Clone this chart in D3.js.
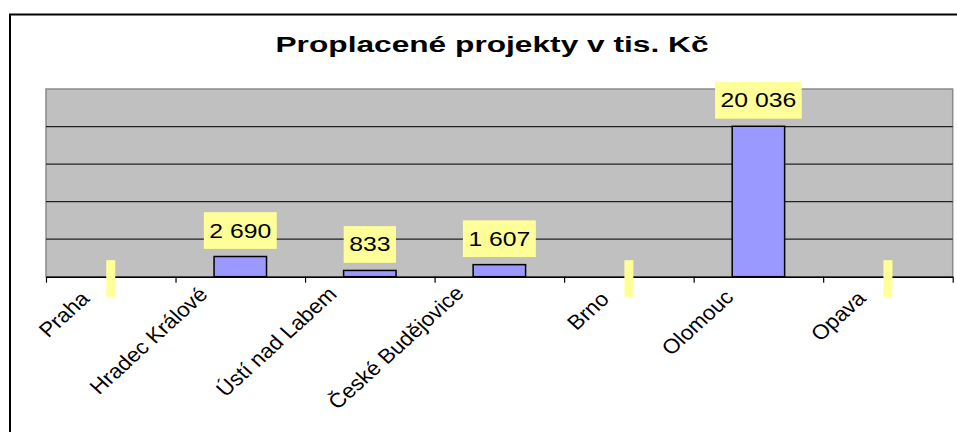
<!DOCTYPE html>
<html>
<head>
<meta charset="utf-8">
<script src="https://cdn.jsdelivr.net/npm/d3@7"></script>
<style>
  body { margin: 0; background: #fff; }
  svg { display: block; font-family: "Liberation Sans", Arial, sans-serif; }
</style>
</head>
<body>
<script>
// data
var cities = ["Praha", "Hradec Králové", "Ústí nad Labem", "České Budějovice", "Brno", "Olomouc", "Opava"];
var values = [0, 2690, 833, 1607, 0, 20036, 0];
var yTicks = [0, 5000, 10000, 15000, 20000, 25000];
var title = "Proplacené projekty v tis. Kč";

var W = 957, H = 432;
var plot = {left: 46, right: 952.7, top: 89, bottom: 276.7};
var sx = 1.27;     // the picture is stretched sideways
var sxCat = 1.1;   // category labels

var svg = d3.select("body").append("svg").attr("width", W).attr("height", H);

svg.append("rect").attr("width", W).attr("height", H).attr("fill", "#fff");

// outer chart frame
svg.append("rect")
    .attr("x", 10).attr("y", 14.5)
    .attr("width", 980).attr("height", 460)
    .attr("fill", "none").attr("stroke", "#000").attr("stroke-width", 2);

svg.append("text")
    .attr("transform", "translate(492,52.3) scale(1.44,1)")
    .attr("text-anchor", "middle")
    .attr("font-size", "22px")
    .attr("font-weight", "bold")
    .text(title);

var x = d3.scaleBand()
    .domain(cities)
    .range([plot.left, plot.right])
    .paddingInner(0.595)
    .paddingOuter(0.2975);

var xIdx = d3.scaleLinear().domain([0, cities.length]).range([plot.left, plot.right]);

var y = d3.scaleLinear()
    .domain(d3.extent(yTicks))
    .range([plot.bottom, plot.top]);

// plot area
svg.append("rect")
    .attr("x", plot.left).attr("y", plot.top)
    .attr("width", plot.right - plot.left).attr("height", plot.bottom - plot.top)
    .attr("fill", "#c0c0c0").attr("stroke", "#8a8a8a").attr("stroke-width", 1.5);

svg.append("g").selectAll("line")
    .data(yTicks.filter(function(t){ return t > 0 && t < 25000; }))
    .enter().append("line")
    .attr("x1", plot.left).attr("x2", plot.right)
    .attr("y1", function(d){ return y(d); }).attr("y2", function(d){ return y(d); })
    .attr("stroke", "#222").attr("stroke-width", 1.2);

// bars
svg.append("g").selectAll("rect")
    .data(values)
    .enter().append("rect")
    .attr("x", function(d,i){ return x(cities[i]); })
    .attr("width", x.bandwidth())
    .attr("y", function(d){ return y(d); })
    .attr("height", function(d){ return y(0) - y(d); })
    .attr("fill", "#9999ff").attr("stroke", "#000").attr("stroke-width", 1.5)
    .style("display", function(d){ return d > 0 ? null : "none"; });

// x axis, ticks between categories
var xAxis = d3.axisBottom(xIdx)
    .tickValues(d3.range(cities.length + 1))
    .tickFormat("")
    .tickSize(6)
    .tickSizeOuter(0);

var ax = svg.append("g")
    .attr("transform", "translate(0," + plot.bottom + ")")
    .call(xAxis);
ax.select(".domain").attr("stroke", "#000").attr("stroke-width", 1.5);
ax.selectAll(".tick line").attr("stroke", "#000").attr("stroke-width", 1.2);

// rotated category labels
svg.append("g").selectAll("text")
    .data(cities)
    .enter().append("text")
    .attr("text-anchor", "end")
    .attr("font-size", "20.5px")
    .attr("fill", "#000")
    .text(function(d){ return d; })
    .attr("transform", function(d){
        var L = this.getComputedTextLength();
        var cx = x(d) + x.bandwidth() / 2 - 13 - 0.13 * L;
        var cy = plot.bottom + 26 - 0.05 * L;
        return "translate(" + cx + "," + cy + ") scale(" + sxCat + ",1) rotate(-45)";
    });

// data labels
var fmt = d3.formatLocale({decimal: ",", thousands: " ", grouping: [3], currency: ["", ""]}).format(",d");

var lab = svg.append("g").selectAll("g")
    .data(values)
    .enter().append("g")
    .attr("transform", function(d,i){
        var cx = x(cities[i]) + x.bandwidth() / 2;
        var cy = d > 0 ? y(d) - 26 : y(0) + 1.8;
        return "translate(" + cx + "," + cy + ")";
    });

lab.append("rect").attr("fill", "#ffff99");

lab.append("text")
    .attr("text-anchor", "middle")
    .attr("font-size", "19.5px")
    .attr("fill", "#000")
    .attr("transform", "translate(0,7) scale(" + sx + ",1)")
    .text(function(d){ return d > 0 ? fmt(d) : ""; });

lab.each(function(){
    var g = d3.select(this);
    var w = g.select("text").node().getComputedTextLength() * sx;
    w = w > 0 ? w + 11 : 9;
    g.select("rect")
        .attr("x", -w / 2).attr("y", -18.3)
        .attr("width", w).attr("height", 36.7);
});
</script>
</body>
</html>
